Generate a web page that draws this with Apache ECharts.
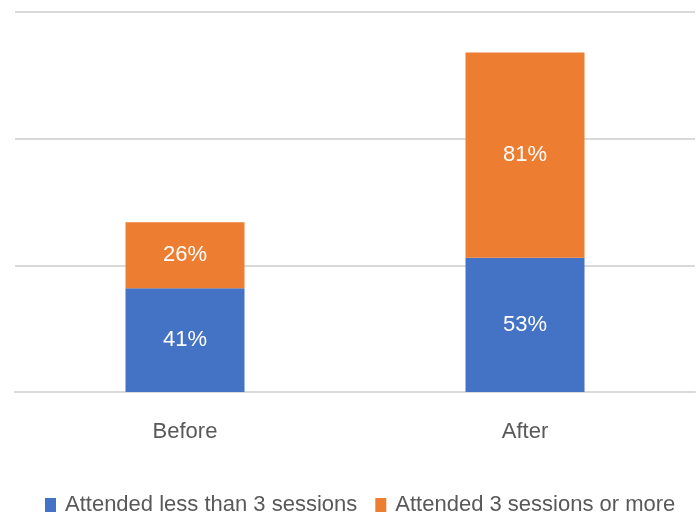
<!DOCTYPE html>
<html>
<head>
<meta charset="utf-8">
<script src="https://cdn.jsdelivr.net/npm/echarts@6/dist/echarts.min.js"></script>
<style>
    html, body { margin: 0; padding: 0; background: #fff; }
    #chart { width: 699px; height: 516px; }
</style>
</head>
<body>
<div id="chart"></div>
<script>
var categories = ['Before', 'After'];
var lessThan3 = [41, 53];   // Attended less than 3 sessions
var threeOrMore = [26, 81]; // Attended 3 sessions or more
var seriesNames = ['Attended less than 3 sessions', 'Attended 3 sessions or more'];

var font = '"Liberation Sans", sans-serif';

var myChart = echarts.init(document.getElementById('chart'));
var option = {
    backgroundColor: '#fff',
    animation: false,
    grid: {
        left: 15,
        right: 4,
        top: 12,
        bottom: 124
    },
    legend: {
        data: seriesNames,
        left: 40,
        top: 489,
        itemWidth: 11,
        itemHeight: 14,
        itemGap: 18,
        icon: 'rect',
        textStyle: { color: '#595959', fontSize: 22, fontFamily: font, padding: [0, 0, 0, 4] }
    },
    xAxis: {
        type: 'category',
        data: categories,
        axisLine: { lineStyle: { color: '#d9d9d9', width: 2 } },
        axisTick: { show: false },
        axisLabel: { color: '#595959', fontSize: 22, fontFamily: font, margin: 29 }
    },
    yAxis: {
        type: 'value',
        min: 0,
        max: 150,
        interval: 50,
        axisLabel: { show: false },
        axisLine: { show: false },
        axisTick: { show: false },
        splitLine: { lineStyle: { color: '#d9d9d9', width: 2 } }
    },
    series: [{
        name: seriesNames[0],
        type: 'bar',
        stack: 'total',
        barWidth: '35%',
        itemStyle: { color: '#4472C4' },
        label: {
            show: true,
            position: 'inside',
            color: '#fff',
            fontSize: 22,
            fontFamily: font,
            formatter: '{c}%'
        },
        data: lessThan3
    }, {
        name: seriesNames[1],
        type: 'bar',
        stack: 'total',
        barWidth: '35%',
        itemStyle: { color: '#ED7D31' },
        label: {
            show: true,
            position: 'inside',
            color: '#fff',
            fontSize: 22,
            fontFamily: font,
            formatter: '{c}%'
        },
        data: threeOrMore
    }]
};
myChart.setOption(option);
</script>
</body>
</html>
